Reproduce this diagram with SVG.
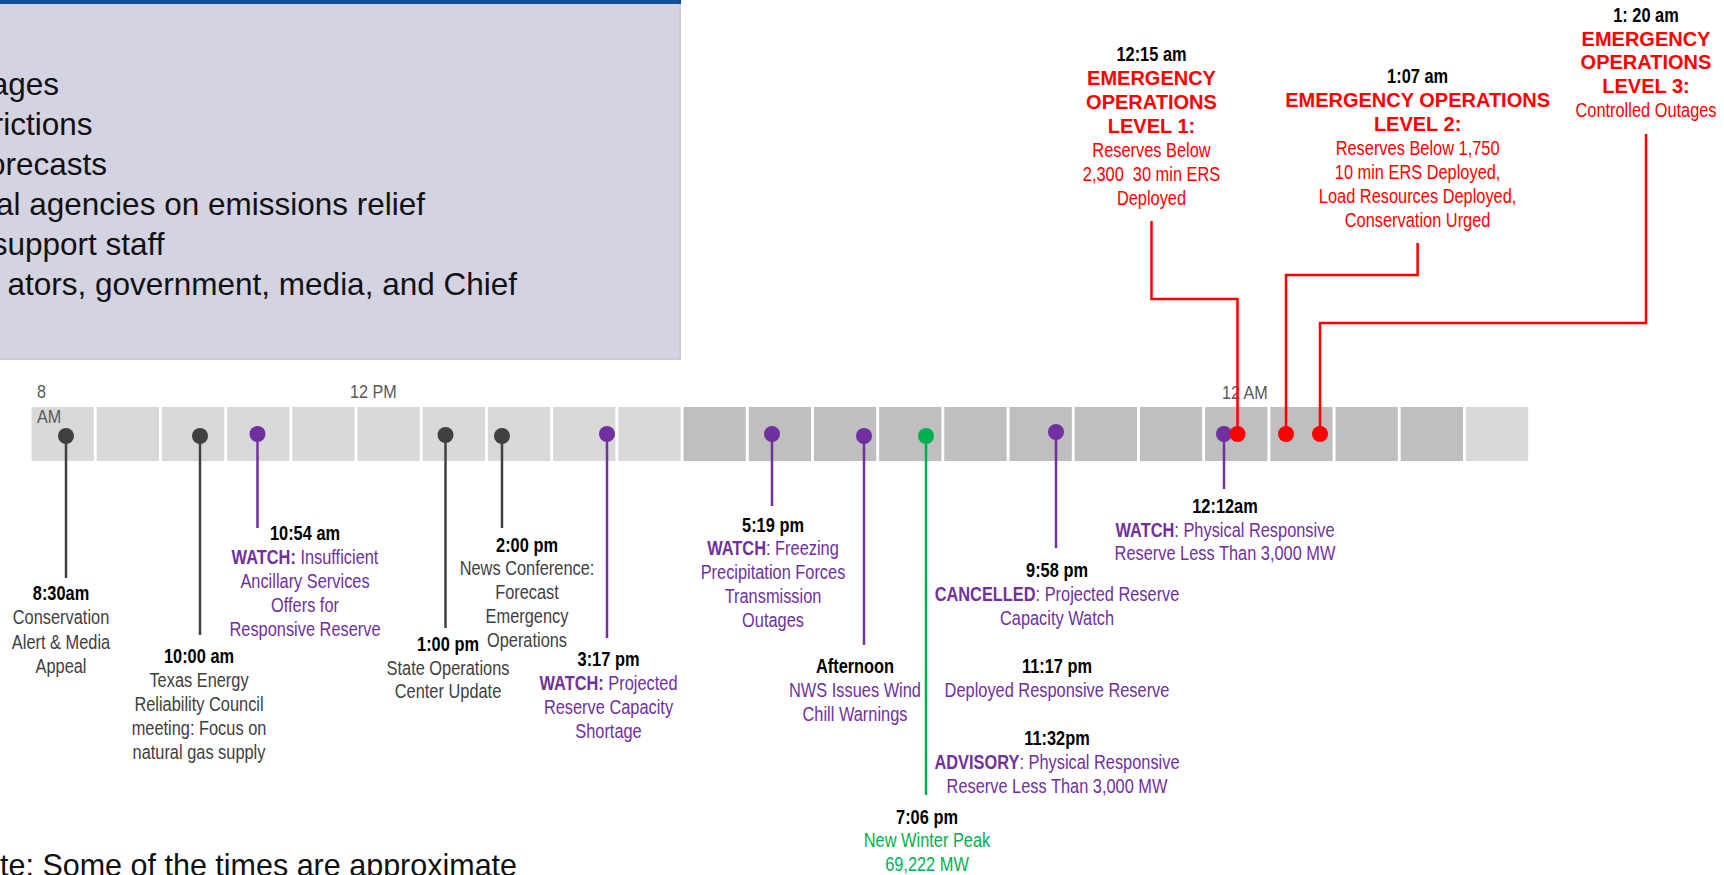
<svg xmlns="http://www.w3.org/2000/svg" width="1724" height="875" viewBox="0 0 1724 875">
<style>
text{font-family:"Liberation Sans",Arial,Helvetica,sans-serif}
.ev{font-size:19.5px;text-anchor:middle}
.tm{font-weight:bold;fill:#000}
.dk{fill:#404040}
.pu{fill:#7030a0}
.gn{fill:#00b050}
.rd{fill:#ff0000}
.em{font-size:20px;font-weight:bold;fill:#ff0000;text-anchor:middle}
.bx{font-size:31.5px;fill:#111;text-anchor:end}
.ax{font-size:19px;fill:#595959}
.cl{fill:#d9d9d9}
.cd{fill:#bfbfbf}
.stem{fill:none;stroke-width:2.5}
.sdk{stroke:#404040}
.spu{stroke:#7030a0}
.sgn{stroke:#00b050}
.srd{stroke:#ff0000}
</style>
<rect width="1724" height="875" fill="#ffffff"/>

<g id="info-box">
<rect x="-10" y="0" width="691" height="360" fill="#cbcbd8"/>
<rect x="-10" y="0" width="689" height="358" fill="#d3d3e2"/>
<rect x="-10" y="0" width="691" height="4" fill="#0b4f9f"/>
<text class="bx" x="59" y="95">ages</text>
<text class="bx" x="92.5" y="135">rictions</text>
<text class="bx" x="107" y="175">orecasts</text>
<text class="bx" x="425" y="215">al agencies on emissions relief</text>
<text class="bx" x="164.5" y="255">support staff</text>
<text class="bx" x="517" y="295">ators, government, media, and Chief</text>
</g>

<g id="timeline">
<rect class="cl" x="31.5" y="407" width="62.3" height="54"/>
<rect class="cl" x="96.7" y="407" width="62.3" height="54"/>
<rect class="cl" x="161.9" y="407" width="62.3" height="54"/>
<rect class="cl" x="227.1" y="407" width="62.3" height="54"/>
<rect class="cl" x="292.3" y="407" width="62.3" height="54"/>
<rect class="cl" x="357.5" y="407" width="62.3" height="54"/>
<rect class="cl" x="422.7" y="407" width="62.3" height="54"/>
<rect class="cl" x="487.9" y="407" width="62.3" height="54"/>
<rect class="cl" x="553.1" y="407" width="62.3" height="54"/>
<rect class="cl" x="618.3" y="407" width="62.3" height="54"/>
<rect class="cd" x="683.5" y="407" width="62.3" height="54"/>
<rect class="cd" x="748.7" y="407" width="62.3" height="54"/>
<rect class="cd" x="813.9" y="407" width="62.3" height="54"/>
<rect class="cd" x="879.1" y="407" width="62.3" height="54"/>
<rect class="cd" x="944.3" y="407" width="62.3" height="54"/>
<rect class="cd" x="1009.5" y="407" width="62.3" height="54"/>
<rect class="cd" x="1074.7" y="407" width="62.3" height="54"/>
<rect class="cd" x="1139.9" y="407" width="62.3" height="54"/>
<rect class="cd" x="1205.1" y="407" width="62.3" height="54"/>
<rect class="cd" x="1270.3" y="407" width="62.3" height="54"/>
<rect class="cd" x="1335.5" y="407" width="62.3" height="54"/>
<rect class="cd" x="1400.7" y="407" width="62.3" height="54"/>
<rect class="cl" x="1465.9" y="407" width="62.3" height="54"/>
<g transform="translate(37 0) scale(0.85 1)"><text class="ax" x="0" y="398">8</text><text class="ax" x="0" y="423">AM</text></g>
<g transform="translate(350 0) scale(0.85 1)"><text class="ax" x="0" y="398">12 PM</text></g>
<g transform="translate(1222 0) scale(0.85 1)"><text class="ax" x="0" y="399">12 AM</text></g>
</g>

<g id="connectors">
<line class="stem sdk" x1="66" y1="436" x2="66" y2="578"/>
<line class="stem sdk" x1="200" y1="436" x2="200" y2="635"/>
<line class="stem spu" x1="257.5" y1="434" x2="257.5" y2="528"/>
<line class="stem sdk" x1="445.5" y1="435" x2="445.5" y2="628"/>
<line class="stem sdk" x1="502" y1="436" x2="502" y2="528"/>
<line class="stem spu" x1="607" y1="434" x2="607" y2="638"/>
<line class="stem spu" x1="772" y1="434" x2="772" y2="506"/>
<line class="stem spu" x1="864" y1="436" x2="864" y2="645"/>
<line class="stem sgn" x1="926" y1="436" x2="926" y2="795"/>
<line class="stem spu" x1="1056" y1="432" x2="1056" y2="548"/>
<line class="stem spu" x1="1224" y1="434" x2="1224" y2="489"/>
<polyline class="stem srd" points="1151.5,221 1151.5,299 1237.5,299 1237.5,434"/>
<polyline class="stem srd" points="1417.6,243 1417.6,275 1286,275 1286,434"/>
<polyline class="stem srd" points="1646,134 1646,323 1320,323 1320,434"/>
</g>

<g id="ev-0830">
<circle cx="66" cy="436" r="8" fill="#404040"/>
<g class="ev" transform="translate(61 0) scale(0.84 1)">
<text class="tm" y="600">8:30am</text>
<text class="dk" y="624.5">Conservation</text>
<text class="dk" y="649">Alert &amp; Media</text>
<text class="dk" y="673">Appeal</text>
</g>
</g>

<g id="ev-1000">
<circle cx="200" cy="436" r="8" fill="#404040"/>
<g class="ev" transform="translate(199 0) scale(0.84 1)">
<text class="tm" y="663">10:00 am</text>
<text class="dk" y="687">Texas Energy</text>
<text class="dk" y="711">Reliability Council</text>
<text class="dk" y="735">meeting: Focus on</text>
<text class="dk" y="759">natural gas supply</text>
</g>
</g>

<g id="ev-1054">
<circle cx="257.5" cy="434" r="8" fill="#7030a0"/>
<g class="ev" transform="translate(305 0) scale(0.84 1)">
<text class="tm" y="540">10:54 am</text>
<text class="pu" y="564"><tspan font-weight="bold">WATCH:</tspan> Insufficient</text>
<text class="pu" y="588">Ancillary Services</text>
<text class="pu" y="612">Offers for</text>
<text class="pu" y="636">Responsive Reserve</text>
</g>
</g>

<g id="ev-1300">
<circle cx="445.5" cy="435" r="8" fill="#404040"/>
<g class="ev" transform="translate(448 0) scale(0.84 1)">
<text class="tm" y="651">1:00 pm</text>
<text class="dk" y="675">State Operations</text>
<text class="dk" y="698">Center Update</text>
</g>
</g>

<g id="ev-1400">
<circle cx="502" cy="436" r="8" fill="#404040"/>
<g class="ev" transform="translate(527 0) scale(0.84 1)">
<text class="tm" y="552">2:00 pm</text>
<text class="dk" y="575">News Conference:</text>
<text class="dk" y="599">Forecast</text>
<text class="dk" y="623">Emergency</text>
<text class="dk" y="647">Operations</text>
</g>
</g>

<g id="ev-1517">
<circle cx="607" cy="434" r="8" fill="#7030a0"/>
<g class="ev" transform="translate(608.5 0) scale(0.84 1)">
<text class="tm" y="666">3:17 pm</text>
<text class="pu" y="690"><tspan font-weight="bold">WATCH:</tspan> Projected</text>
<text class="pu" y="714">Reserve Capacity</text>
<text class="pu" y="738">Shortage</text>
</g>
</g>

<g id="ev-1719">
<circle cx="772" cy="434" r="8" fill="#7030a0"/>
<g class="ev" transform="translate(773 0) scale(0.84 1)">
<text class="tm" y="532">5:19 pm</text>
<text class="pu" y="555"><tspan font-weight="bold">WATCH</tspan>: Freezing</text>
<text class="pu" y="579">Precipitation Forces</text>
<text class="pu" y="603">Transmission</text>
<text class="pu" y="627">Outages</text>
</g>
</g>

<g id="ev-afternoon">
<circle cx="864" cy="436" r="8" fill="#7030a0"/>
<g class="ev" transform="translate(855 0) scale(0.84 1)">
<text class="tm" y="673">Afternoon</text>
<text class="pu" y="697">NWS Issues Wind</text>
<text class="pu" y="721">Chill Warnings</text>
</g>
</g>

<g id="ev-1906">
<circle cx="926" cy="436" r="8" fill="#00b050"/>
<g class="ev" transform="translate(927 0) scale(0.84 1)">
<text class="tm" y="824">7:06 pm</text>
<text class="gn" y="847">New Winter Peak</text>
<text class="gn" y="871">69,222 MW</text>
</g>
</g>

<g id="ev-2158">
<circle cx="1056" cy="432" r="8" fill="#7030a0"/>
<g class="ev" transform="translate(1057 0) scale(0.84 1)">
<text class="tm" y="577">9:58 pm</text>
<text class="pu" y="601"><tspan font-weight="bold">CANCELLED</tspan>: Projected Reserve</text>
<text class="pu" y="625">Capacity Watch</text>
</g>
</g>

<g id="ev-2317">
<g class="ev" transform="translate(1057 0) scale(0.84 1)">
<text class="tm" y="673">11:17 pm</text>
<text class="pu" y="697">Deployed Responsive Reserve</text>
</g>
</g>

<g id="ev-2332">
<g class="ev" transform="translate(1057 0) scale(0.84 1)">
<text class="tm" y="745">11:32pm</text>
<text class="pu" y="769"><tspan font-weight="bold">ADVISORY</tspan>: Physical Responsive</text>
<text class="pu" y="793">Reserve Less Than 3,000 MW</text>
</g>
</g>

<g id="ev-0012">
<circle cx="1224" cy="434" r="8" fill="#7030a0"/>
<g class="ev" transform="translate(1225 0) scale(0.84 1)">
<text class="tm" y="513">12:12am</text>
<text class="pu" y="537"><tspan font-weight="bold">WATCH</tspan>: Physical Responsive</text>
<text class="pu" y="560">Reserve Less Than 3,000 MW</text>
</g>
</g>

<g id="ev-0015">
<circle cx="1237.5" cy="434" r="8" fill="#ff0000"/>
<g class="ev" transform="translate(1151.5 0) scale(0.84 1)">
<text class="tm" y="61">12:15 am</text>
<text class="rd" y="157">Reserves Below</text>
<text class="rd" y="181" xml:space="preserve">2,300  30 min ERS</text>
<text class="rd" y="205">Deployed</text>
</g>
<text class="em" x="1151.5" y="85">EMERGENCY</text>
<text class="em" x="1151.5" y="109">OPERATIONS</text>
<text class="em" x="1151.5" y="133">LEVEL 1:</text>
</g>

<g id="ev-0107">
<circle cx="1286" cy="434" r="8" fill="#ff0000"/>
<g class="ev" transform="translate(1417.6 0) scale(0.84 1)">
<text class="tm" y="83">1:07 am</text>
<text class="rd" y="155">Reserves Below 1,750</text>
<text class="rd" y="179">10 min ERS Deployed,</text>
<text class="rd" y="203">Load Resources Deployed,</text>
<text class="rd" y="227">Conservation Urged</text>
</g>
<text class="em" x="1417.6" y="107">EMERGENCY OPERATIONS</text>
<text class="em" x="1417.6" y="131">LEVEL 2:</text>
</g>

<g id="ev-0120">
<circle cx="1320" cy="434" r="8" fill="#ff0000"/>
<g class="ev" transform="translate(1646 0) scale(0.84 1)">
<text class="tm" y="22">1: 20 am</text>
<text class="rd" y="117">Controlled Outages</text>
</g>
<text class="em" x="1646" y="46">EMERGENCY</text>
<text class="em" x="1646" y="69">OPERATIONS</text>
<text class="em" x="1646" y="93">LEVEL 3:</text>
</g>

<g id="note">
<text x="0" y="876" font-size="30.5" fill="#111">te: Some of the times are approximate</text>
</g>
</svg>
